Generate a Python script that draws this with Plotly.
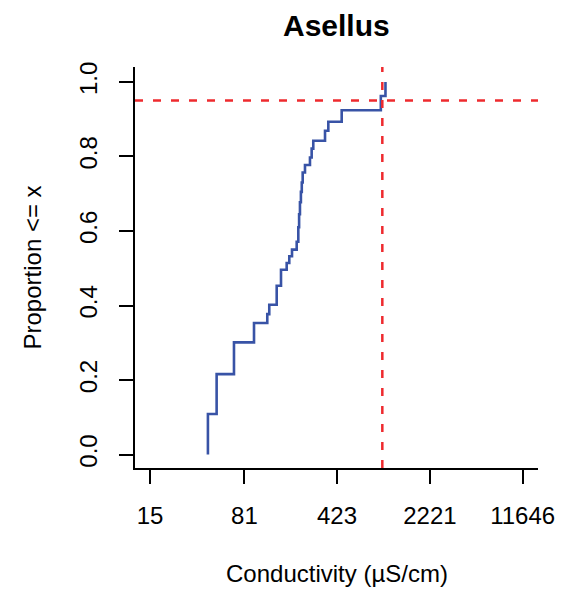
import math
import plotly.graph_objects as go

# ECDF steps: conductivity (µS/cm) at each rise, proportion after the rise
step_conductivity = [42.2, 49.3, 67.2, 96.1, 121.8, 126.2, 144.1, 155.6, 172.2, 180.4,
                     189.4, 205.9, 211.9, 215.0, 218.3, 222.0, 225.5, 229.2, 238.8, 261.0,
                     269.0, 276.9, 341.5, 362.2, 459.9, 925.0, 1005.0]
step_proportion = [0.109, 0.216, 0.301, 0.353, 0.377, 0.402, 0.453, 0.496, 0.514, 0.532,
                   0.550, 0.571, 0.610, 0.645, 0.677, 0.705, 0.730, 0.757, 0.777, 0.797,
                   0.821, 0.842, 0.869, 0.893, 0.924, 0.962, 1.000]

x_tick_values = [15, 81, 423, 2221, 11646]
x_tick_labels = ["15", "81", "423", "2221", "11646"]
y_tick_values = [0.0, 0.2, 0.4, 0.6, 0.8, 1.0]
y_tick_labels = ["0.0", "0.2", "0.4", "0.6", "0.8", "1.0"]

threshold_conductivity = 950.0   # vertical red dashed line
threshold_proportion = 0.95      # horizontal red dashed line

title_text = "Asellus"
x_title = "Conductivity (µS/cm)"
y_title = "Proportion <= x"

x_range_log10 = [1.0598, 4.185]
y_range = [-0.036, 1.04]

FONT = "Liberation Sans, Arial, sans-serif"
BLUE = "#3853A6"
RED = "#EE2A2E"

line_x = [step_conductivity[0]] + step_conductivity
line_y = [0.0] + step_proportion

fig = go.Figure()
fig.add_trace(go.Scatter(x=line_x, y=line_y, mode="lines", line=dict(color=BLUE, width=2.6, shape="hv"),
                         showlegend=False, hoverinfo="skip"))
fig.add_trace(go.Scatter(x=[threshold_conductivity, threshold_conductivity], y=y_range, mode="lines",
                         line=dict(color=RED, width=2.5, dash="8px,10px"), showlegend=False, hoverinfo="skip"))
fig.add_shape(type="line", xref="paper", x0=0, x1=1, yref="y", y0=threshold_proportion, y1=threshold_proportion,
              line=dict(color=RED, width=2.5, dash="8px,10px"))

fig.update_layout(
    width=580, height=591,
    margin=dict(l=135, r=42, t=67, b=123),
    paper_bgcolor="white", plot_bgcolor="white",
    font=dict(family=FONT, size=24, color="black"),
    showlegend=False,
)
fig.update_xaxes(type="log", range=x_range_log10, tickvals=x_tick_values, ticktext=x_tick_labels,
                 showline=True, linecolor="black", linewidth=2, ticks="outside", ticklen=14, tickwidth=2,
                 tickcolor="black", showgrid=False, zeroline=False, ticklabelstandoff=11,
                 tickfont=dict(family=FONT, size=24, color="black"))
fig.update_yaxes(range=y_range, tickvals=y_tick_values, ticktext=y_tick_labels, tickangle=-90,
                 showline=True, linecolor="black", linewidth=2, ticks="outside", ticklen=14, tickwidth=2,
                 tickcolor="black", showgrid=False, zeroline=False, ticklabelstandoff=12,
                 tickfont=dict(family=FONT, size=24, color="black"))

fig.add_annotation(text="<b>" + title_text + "</b>", xref="paper", yref="paper", x=0.5, y=1, yshift=42,
                   xanchor="center", yanchor="middle", showarrow=False,
                   font=dict(family=FONT, size=30, color="black"))
fig.add_annotation(text=x_title, xref="paper", yref="paper", x=0.5, y=0, yshift=-105,
                   xanchor="center", yanchor="middle", showarrow=False,
                   font=dict(family=FONT, size=24, color="black"))
fig.add_annotation(text=y_title, xref="paper", yref="paper", x=0, y=0.5, xshift=-103,
                   xanchor="center", yanchor="middle", textangle=-90, showarrow=False,
                   font=dict(family=FONT, size=24, color="black"))

fig.write_html("out.html", config={"displayModeBar": False},
               post_script="document.body.style.margin='0';document.body.style.overflow='hidden';")
